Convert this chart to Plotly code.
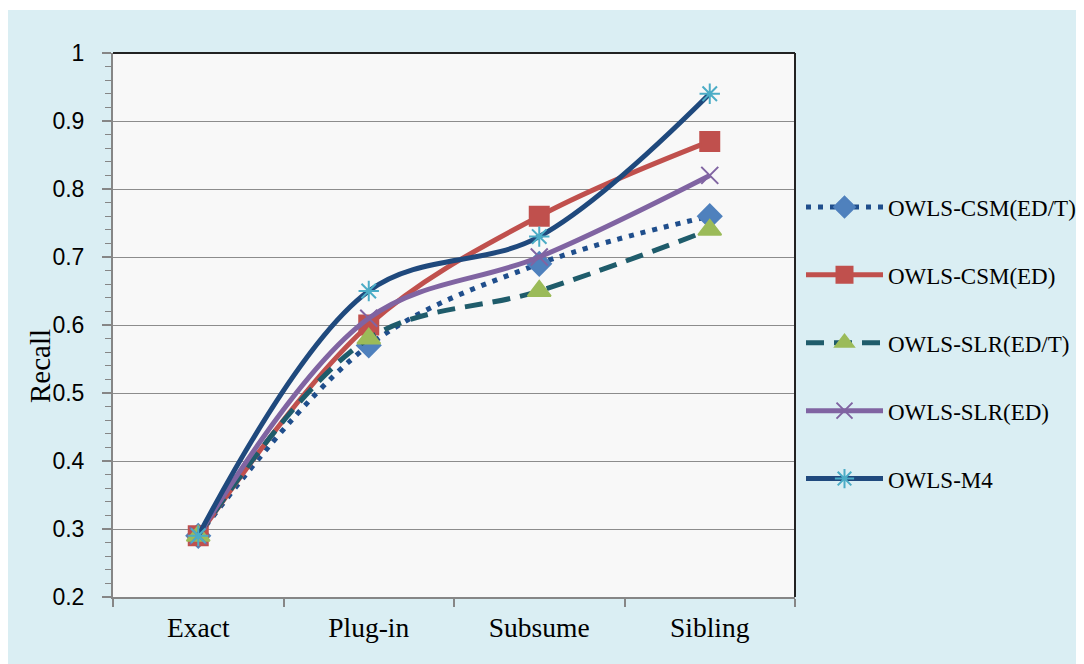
import plotly.graph_objects as go

categories = ["Exact", "Plug-in", "Subsume", "Sibling"]
csm_edt = [0.29, 0.57, 0.69, 0.76]
csm_ed = [0.29, 0.60, 0.76, 0.87]
slr_edt = [0.29, 0.58, 0.65, 0.74]
slr_ed = [0.29, 0.61, 0.70, 0.82]
m4 = [0.29, 0.65, 0.73, 0.94]

series = [
    ("OWLS-CSM(ED/T)", csm_edt, "#1F4E8C", "5px,7px", "diamond", "#4F81BD", 18),
    ("OWLS-CSM(ED)", csm_ed, "#C0504D", "solid", "square", "#C0504D", 19),
    ("OWLS-SLR(ED/T)", slr_edt, "#1F5C6B", "18px,10px", "triangle-up", "#9BBB59", 20),
    ("OWLS-SLR(ED)", slr_ed, "#8064A2", "solid", "x-thin-open", "#8064A2", 17),
    ("OWLS-M4", m4, "#1F497D", "solid", "asterisk-open", "#4BACC6", 17),
]

fig = go.Figure()
for i, (name, vals, lc, dash, sym, mc, ms) in enumerate(series):
    fig.add_trace(go.Scatter(
        x=categories, y=vals, name=name, mode="lines+markers",
        line=dict(color=lc, width=5, dash=dash, shape="spline", smoothing=1.0),
        marker=dict(symbol=sym, color=mc, size=ms,
                    line=dict(color=mc, width=2)),
        legendgroup=f"g{i}",
    ))

# the page has an 8px body margin: figure pixel = reference pixel - 8
OFF = 8
W, H = 1084, 664
L, R, T, B = 113 - OFF, 795 - OFF, 53 - OFF, 597 - OFF
pw, ph = R - L, B - T

def px_x(p):
    return (p - L) / pw

def px_y(p):
    return (B - p) / ph

shapes = [
    dict(type="line", xref="paper", yref="paper", x0=0, x1=1, y0=1, y1=1,
         line=dict(color="#222222", width=2)),
    dict(type="line", xref="paper", yref="paper", x0=1, x1=1, y0=0, y1=1,
         line=dict(color="#222222", width=2)),
    dict(type="rect", xref="paper", yref="paper", x0=px_x(-5), x1=px_x(W + 5),
         y0=px_y(2), y1=px_y(-5), fillcolor="white", line=dict(width=0), layer="above"),
]

annotations = [
    dict(text="Recall", xref="paper", yref="paper",
         x=px_x(40 - OFF), y=px_y(366 - OFF), xanchor="center", yanchor="middle",
         textangle=-90, showarrow=False,
         font=dict(family="Liberation Serif", size=29, color="black")),
]

fig.update_layout(
    width=W, height=H,
    margin=dict(l=L, r=W - R, t=T, b=H - B, autoexpand=False),
    paper_bgcolor="#DAEEF3",
    plot_bgcolor="#F8F8F8",
    showlegend=True,
    legend=dict(
        x=px_x(801 - OFF), y=px_y(343 - OFF), xanchor="left", yanchor="middle",
        font=dict(family="Liberation Serif", size=23, color="black"),
        bgcolor="rgba(0,0,0,0)", tracegroupgap=35, itemwidth=77,
    ),
    shapes=shapes,
    annotations=annotations,
    xaxis=dict(
        type="category", range=[-0.5, 3.5], automargin=False,
        tickson="boundaries", ticks="outside", ticklen=8, tickwidth=1.5,
        tickcolor="#868686", showline=True, linecolor="#868686", linewidth=2,
        showgrid=False, zeroline=False, ticklabelstandoff=5,
        tickfont=dict(family="Liberation Serif", size=27.5, color="black"),
    ),
    yaxis=dict(
        range=[0.2, 1.0], dtick=0.1, tick0=0.2, automargin=False,
        ticks="outside", ticklen=9, tickwidth=1.5, tickcolor="#868686",
        showline=True, linecolor="#868686", linewidth=2,
        showgrid=True, gridcolor="#8C8C8C", gridwidth=1.3, zeroline=False,
        minor=dict(dtick=0.02, tick0=0.2, ticks="outside", ticklen=6, tickwidth=1.2,
                   tickcolor="#868686", showgrid=False),
        ticklabelstandoff=13,
        tickfont=dict(family="Liberation Sans", size=23, color="black"),
    ),
    yaxis2=dict(
        overlaying="y", side="left", anchor="x", automargin=False,
        range=[0.2, 1.0], dtick=0.1, tick0=0.2,
        ticks="inside", ticklen=5, tickwidth=1.2, tickcolor="#868686",
        showticklabels=False, showgrid=False, zeroline=False, showline=False,
        minor=dict(dtick=0.02, tick0=0.2, ticks="inside", ticklen=5, tickwidth=1.2,
                   tickcolor="#868686", showgrid=False),
    ),
)

fig.write_html("out.html")
